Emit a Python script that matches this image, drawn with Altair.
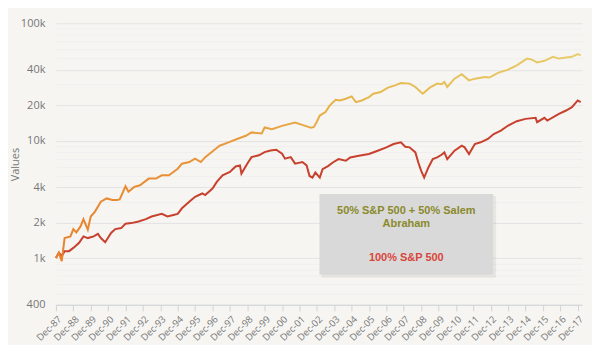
import altair as alt
import pandas as pd

# 100% S&P 500 (red)
sp_dates = ["1987-12","1988-02","1988-04","1988-06","1988-09","1988-12","1989-04","1989-07","1989-10",
            "1990-02","1990-05","1990-07","1990-10","1991-02","1991-05","1991-09","1991-12","1992-04",
            "1992-09","1993-02","1993-06","1994-01","1994-05","1994-09","1994-12","1995-03","1995-08",
            "1995-12","1996-05","1996-07","1996-12","1997-03","1997-07","1997-12","1998-04","1998-07",
            "1998-08","1998-12","1999-03","1999-08","1999-12","2000-04","2000-08","2000-12","2001-02",
            "2001-06","2001-09","2002-02","2002-05","2002-06","2002-07","2002-09","2002-11","2003-02",
            "2003-04","2003-08","2003-11","2004-03","2004-08","2004-11","2005-05","2005-12","2006-06",
            "2006-12","2007-05","2007-10","2008-01","2008-04","2008-08","2008-10","2008-12","2009-02",
            "2009-05","2009-08","2009-11","2010-02","2010-04","2010-06","2010-11","2011-04","2011-06",
            "2011-09","2012-01","2012-05","2012-10","2013-02","2013-07","2013-12","2014-06","2014-12",
            "2015-07","2015-08","2016-01","2016-03","2016-11","2017-04","2017-08","2017-12","2018-02"]
sp_values = [1000,1110,1040,1145,1145,1220,1350,1530,1480,
             1530,1610,1480,1365,1635,1765,1800,1960,1985,
             2050,2145,2260,2380,2260,2330,2380,2655,3020,
             3330,3550,3440,3910,4450,5070,5410,6030,6160,
             5240,6370,7240,7500,7990,8250,8370,7730,7020,
             7240,6370,6570,6160,5530,5000,4850,5350,4850,
             5720,6100,6520,6960,6740,7200,7440,7690,8210,
             8770,9360,9680,8880,8770,7940,6520,5530,4850,
             5910,6960,7200,7580,7940,6960,8210,9060,8770,
             7690,9360,9680,10330,11400,12180,13450,14650,15330,
             15640,14360,15640,14840,16920,18070,19310,22000,21300]

# 50% S&P 500 + 50% Salem Abraham (orange -> yellow)
mix_dates = ["1987-12","1988-02","1988-04","1988-06","1988-10","1988-12","1989-02","1989-05","1989-07",
             "1989-10","1989-12","1990-03","1990-07","1990-11","1991-03","1991-06","1991-08","1991-12",
             "1992-02","1992-06","1992-10","1993-04","1993-09","1994-01","1994-06","1994-12","1995-03",
             "1995-08","1995-12","1996-04","1996-07","1996-10","1997-02","1997-05","1997-11","1998-05",
             "1998-11","1999-03","1999-10","1999-12","2000-05","2000-12","2001-09","2002-04","2002-08",
             "2002-10","2002-12","2003-02","2003-06","2003-09","2004-01","2004-04","2004-08","2004-12",
             "2005-03","2005-07","2005-12","2006-03","2006-08","2007-01","2007-06","2007-10","2008-04",
             "2008-08","2009-01","2009-06","2009-11","2010-02","2010-04","2010-06","2010-11","2011-04",
             "2011-09","2012-01","2012-08","2012-11","2013-05","2013-12","2014-06","2015-01","2015-04",
             "2015-08","2016-01","2016-07","2016-11","2017-04","2017-08","2017-12","2018-02"]
mix_values = [1000,1110,943,1480,1530,1765,1655,1860,2145,
              1745,2260,2490,3020,3220,3120,3120,3160,4090,
              3670,4040,4170,4750,4750,5070,5070,5770,6370,
              6570,7020,6570,7240,7730,8500,9060,9660,10330,
              11010,11760,11500,12940,12530,13370,14280,13370,12900,
              13100,14500,16370,17500,19970,22300,22000,22750,23830,
              21300,22000,23500,25100,25960,28280,29570,30980,30620,
              28650,25100,28280,30620,30210,31600,28650,33740,36800,
              32630,33740,34880,34500,37800,40300,43860,50000,49200,
              46330,47880,51780,50000,51120,51780,54600,53250]

y_ticks = [400,500,600,700,800,900,1000,2000,3000,4000,5000,6000,7000,8000,9000,
           10000,20000,30000,40000,50000,60000,70000,80000,90000,100000]
y_labeled = [400,1000,2000,4000,10000,20000,40000,100000]
x_tick_years = list(range(1987, 2018))

legend_lines = ["50% S&P 500 + 50% Salem", "Abraham", "100% S&P 500"]

sp = pd.DataFrame({"date": pd.to_datetime(sp_dates), "value": sp_values})
mix = pd.DataFrame({"date": pd.to_datetime(mix_dates), "value": mix_values})

labeled_js = "[" + ",".join(str(v) for v in y_labeled) + "]"

x_enc = alt.X("date:T",
              scale=alt.Scale(domain=[alt.DateTime(year=1987, month=12, date=1),
                                      alt.DateTime(year=2018, month=3, date=1)]),
              axis=alt.Axis(values=[alt.DateTime(year=y, month=12, date=1) for y in x_tick_years],
                            format="%b-%y",
                            labelAngle=-45, labelAlign="right", labelBaseline="top",
                            labelFontSize=9.5, labelColor="#777", labelFont="Open Sans",
                            labelPadding=3, grid=False, domainColor="#d0d4d8",
                            tickColor="#d0d4d8", tickSize=6, title=None, labelOverlap=False,
                            labelBound=False))
y_enc = alt.Y("value:Q",
              scale=alt.Scale(type="log", domain=[400, 100000], nice=False),
              axis=alt.Axis(values=y_ticks,
                            labelExpr=f"indexof({labeled_js}, datum.value) >= 0 ? (datum.value >= 1000 ? (datum.value/1000) + 'k' : datum.value + '') : ''",
                            gridColor={"condition": {"test": f"indexof({labeled_js}, datum.value) >= 0",
                                                     "value": "#e3e3e3"}, "value": "#efefef"},
                            gridWidth=1, domain=False, ticks=False, labelPadding=11,
                            labelFontSize=11, labelColor="#777", labelFont="Open Sans",
                            title="Values", titleFontSize=11, titleColor="#777",
                            titleFont="Open Sans", titleFontWeight="normal", titlePadding=0,
                            labelOverlap=False))

red_line = alt.Chart(sp).mark_line(color="#c8402e", strokeWidth=2).encode(x=x_enc, y=y_enc)
mix_line = alt.Chart(mix).mark_line(
    strokeWidth=2,
    color=alt.Gradient(gradient="linear", x1=0, x2=1, y1=0, y2=0,
                       stops=[alt.GradientStop(offset=0, color="#e8832e"),
                              alt.GradientStop(offset=0.3, color="#e8963a"),
                              alt.GradientStop(offset=0.6, color="#e6b94f"),
                              alt.GradientStop(offset=1, color="#e8cc6c")])
).encode(x=x_enc, y=y_enc)

box_df = pd.DataFrame({"k": [0]})
shadow = alt.Chart(box_df).mark_rect(color="#000", opacity=0.06).encode(
    x=alt.value(266), x2=alt.value(441), y=alt.value(173), y2=alt.value(255))
box = alt.Chart(box_df).mark_rect(color="#d9d9d9").encode(
    x=alt.value(264), x2=alt.value(438), y=alt.value(171), y2=alt.value(252))

txt_df = pd.DataFrame({"t": legend_lines, "c": ["#8a8a2c", "#8a8a2c", "#d8453a"],
                       "yy": [188, 201, 235]})
txt = alt.Chart(txt_df).mark_text(fontSize=11, fontWeight="bold", font="Liberation Sans",
                                  align="center", baseline="middle").encode(
    x=alt.value(351), y=alt.Y("yy:Q", scale=None),
    text="t:N", color=alt.Color("c:N", scale=None))

chart = alt.layer(red_line, mix_line, shadow, box, txt).properties(
    width=527, height=282,
    autosize=alt.AutoSizeParams(type="none"),
    padding={"left": 48, "top": 15, "right": 10, "bottom": 40},
    background="#f6f5f2"
).configure_view(stroke=None)

chart.save("out.html", embed_options={"renderer": "svg", "actions": False})
